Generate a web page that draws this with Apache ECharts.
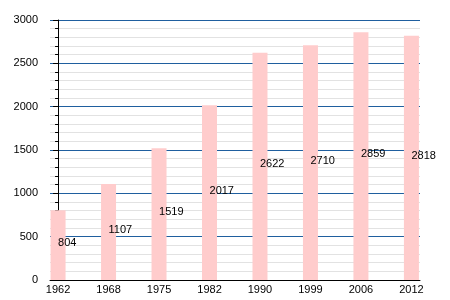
<!DOCTYPE html>
<html>
<head>
<meta charset="utf-8">
<script src="https://cdn.jsdelivr.net/npm/echarts@6/dist/echarts.min.js"></script>
<style>
  html, body { margin: 0; padding: 0; background: #fff; }
  #chart { width: 450px; height: 300px; }
</style>
</head>
<body>
<div id="chart"></div>
<script>
  // 年份与人口
  var years = ['1962', '1968', '1975', '1982', '1990', '1999', '2006', '2012'];
  var population = [804, 1107, 1519, 2017, 2622, 2710, 2859, 2818];
  var yTicks = [0, 500, 1000, 1500, 2000, 2500, 3000];

  var positions = years.map(function (y, i) { return i; });
  var barData = population.map(function (v, i) { return [i, v]; });

  var myChart = echarts.init(document.getElementById('chart'));
  myChart.setOption({
    animation: false,
    grid: { left: 50, right: 30, top: 20, bottom: 20 },
    xAxis: {
      type: 'value',
      min: -0.16,
      max: 7.17,
      axisLine: { show: true, lineStyle: { color: '#000', width: 1 } },
      axisTick: { show: false },
      splitLine: { show: false },
      axisLabel: {
        customValues: positions,
        formatter: function (v) { return years[Math.round(v)]; },
        color: '#000',
        fontSize: 11,
        fontFamily: 'Liberation Sans',
        margin: 4
      }
    },
    yAxis: {
      type: 'value',
      min: yTicks[0],
      max: yTicks[yTicks.length - 1],
      interval: 500,
      axisLine: { show: true, lineStyle: { color: '#000', width: 1 } },
      axisTick: { show: true, length: 5, lineStyle: { color: '#000' } },
      minorTick: { show: true, splitNumber: 5, length: 3, lineStyle: { color: '#000' } },
      axisLabel: {
        color: '#000',
        fontSize: 11,
        fontFamily: 'Liberation Sans',
        margin: 12,
        formatter: function (v) { return String(v); }
      },
      splitLine: { show: true, lineStyle: { color: '#1f5f9f', width: 1 } },
      minorSplitLine: { show: true, lineStyle: { color: '#e2e2e2', width: 1 } }
    },
    series: [{
      type: 'bar',
      data: barData,
      barWidth: 15,
      itemStyle: { color: '#ffcccc' },
      label: {
        show: true,
        position: ['50%', '50%'],
        align: 'left',
        verticalAlign: 'middle',
        offset: [0, -2],
        color: '#000',
        fontSize: 11,
        fontFamily: 'Liberation Sans',
        formatter: function (p) { return p.value[1]; }
      }
    }]
  });
</script>
</body>
</html>
